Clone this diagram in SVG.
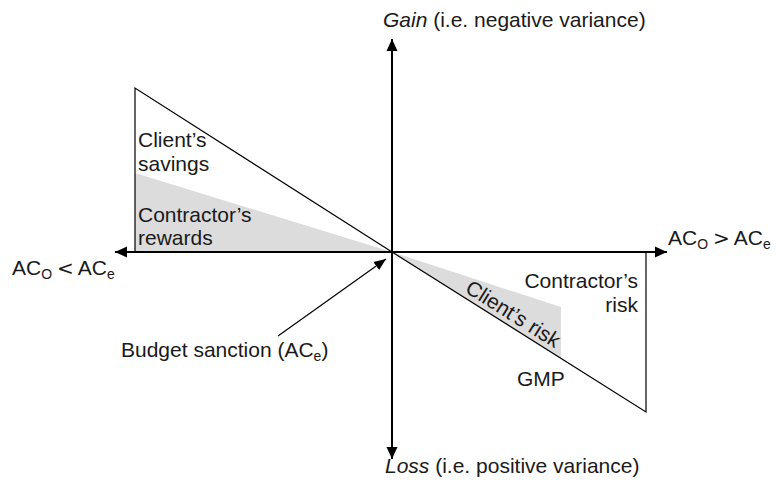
<svg xmlns="http://www.w3.org/2000/svg" width="778" height="490" viewBox="0 0 778 490">
  <defs>
    <style>
      text { font-family: "Liberation Sans", Arial, sans-serif; font-size: 21px; fill: #1a1a1a; }
      .sub { font-size: 14px; }
      .rel { font-family: "DejaVu Sans", "Liberation Sans", sans-serif; font-size: 20px; }
      .axis { stroke: #000; stroke-width: 2; fill: none; }
      .edge { stroke: #000; stroke-width: 1.2; fill: none; }
      .band { fill: #dcdcdc; stroke: none; }
    </style>
    <marker id="head" markerUnits="userSpaceOnUse" markerWidth="12" markerHeight="12" refX="12" refY="5.5" orient="auto-start-reverse" viewBox="0 0 12 11">
      <path d="M0,0 L12,5.5 L0,11 z" fill="#000"/>
    </marker>
    <marker id="head-small" markerUnits="userSpaceOnUse" markerWidth="12" markerHeight="11" refX="12" refY="5" orient="auto" viewBox="0 0 12 10">
      <path d="M0,0 L12,5 L0,10 z" fill="#000"/>
    </marker>
  </defs>

  <!-- shaded bands -->
  <g id="bands">
    <polygon class="band" points="135,173 392,252 135,252"/>
    <polygon class="band" points="392,252 561,307 561,358.5"/>
  </g>

  <!-- triangle outlines -->
  <g id="savings-triangle">
    <polyline class="edge" points="392,252 135,88 135,252"/>
  </g>
  <g id="risk-triangle">
    <polyline class="edge" points="392,252 646,412 646,252"/>
  </g>

  <!-- axes and pointer -->
  <g id="connectors">
    <line class="axis" x1="392" y1="459" x2="392" y2="39" marker-start="url(#head)" marker-end="url(#head)"/>
    <line class="axis" x1="115" y1="252" x2="667" y2="252" marker-start="url(#head)" marker-end="url(#head)"/>
    <line class="edge" stroke-width="1.4" x1="278" y1="336" x2="386" y2="259" marker-end="url(#head-small)"/>
  </g>

  <!-- axis labels -->
  <g id="gain-label">
    <text x="383" y="27"><tspan font-style="italic">Gain</tspan> (i.e. negative variance)</text>
  </g>
  <g id="loss-label">
    <text x="385" y="473"><tspan font-style="italic">Loss</tspan> (i.e. positive variance)</text>
  </g>
  <g id="right-label">
    <text x="668" y="245">AC<tspan class="sub" dy="4">O</tspan><tspan class="rel" dy="-4" dx="5">&gt;</tspan><tspan dx="4">AC</tspan><tspan class="sub" dy="4">e</tspan></text>
  </g>
  <g id="left-label">
    <text x="12" y="275">AC<tspan class="sub" dy="4">O</tspan><tspan class="rel" dy="-4" dx="5">&lt;</tspan><tspan dx="4">AC</tspan><tspan class="sub" dy="4">e</tspan></text>
  </g>

  <!-- region labels -->
  <g id="client-savings">
    <text x="138" y="147">Client’s</text>
    <text x="138" y="171">savings</text>
  </g>
  <g id="contractor-rewards">
    <text x="138" y="222">Contractor’s</text>
    <text x="138" y="245">rewards</text>
  </g>
  <g id="contractor-risk">
    <text x="638" y="288" text-anchor="end">Contractor’s</text>
    <text x="638" y="312" text-anchor="end">risk</text>
  </g>
  <g id="client-risk">
    <text transform="translate(392,252) rotate(32.2)" x="82" y="-5">Client’s risk</text>
  </g>
  <g id="gmp">
    <text x="517" y="386">GMP</text>
  </g>
  <g id="budget-sanction">
    <text x="121" y="357">Budget sanction (AC<tspan class="sub" dy="4">e</tspan><tspan dy="-4">)</tspan></text>
  </g>
</svg>
